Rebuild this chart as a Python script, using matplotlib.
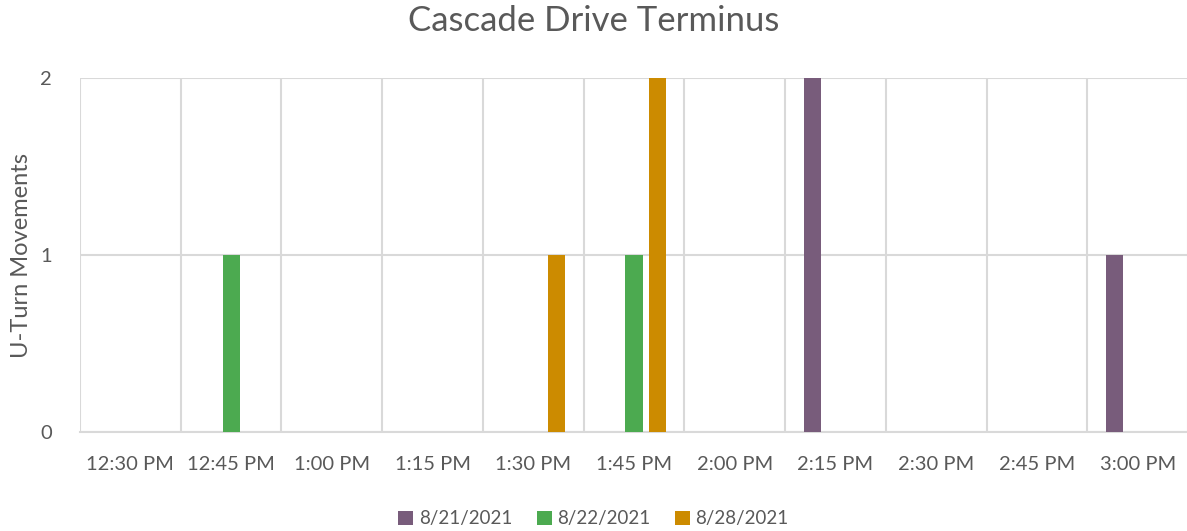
import matplotlib.pyplot as plt
import numpy as np

plt.rcParams['font.family'] = ['Lato', 'DejaVu Sans']

times = ['12:30 PM', '12:45 PM', '1:00 PM', '1:15 PM', '1:30 PM', '1:45 PM',
         '2:00 PM', '2:15 PM', '2:30 PM', '2:45 PM', '3:00 PM']
series_names = ['8/21/2021', '8/22/2021', '8/28/2021']
aug21 = [0, 0, 0, 0, 0, 0, 0, 2, 0, 0, 1]
aug22 = [0, 1, 0, 0, 0, 1, 0, 0, 0, 0, 0]
aug28 = [0, 0, 0, 0, 1, 2, 0, 0, 0, 0, 0]
colors = ['#785C7B', '#4CAA50', '#CC8B00']

fig = plt.figure(figsize=(11.87, 5.31), dpi=100)
ax = fig.add_axes([80 / 1187, 1 - 432 / 531, 1108 / 1187, (432 - 78) / 531])

x = np.arange(len(times))
width = 0.17
offsets = [-0.23, 0, 0.23]
for vals, name, col, off in zip([aug21, aug22, aug28], series_names, colors, offsets):
    ax.bar(x + off, vals, width, color=col, label=name, zorder=3)

ax.set_xlim(-0.5, len(times) - 0.5)
ax.set_ylim(0, 2)
ax.set_yticks([0, 1, 2])
ax.set_xticks(x)
ax.set_xticklabels(times)
# category boundary gridlines, Excel style
ax.set_xticks(np.arange(-0.5, len(times)), minor=True)
ax.grid(True, which='minor', axis='x', color='#D9D9D9', linewidth=1.5, zorder=0)
ax.grid(True, which='major', axis='y', color='#D9D9D9', linewidth=1.5, zorder=0)
ax.tick_params(axis='both', which='both', length=0, colors='#595959', labelsize=14.5)
ax.tick_params(axis='x', pad=17)
ax.tick_params(axis='y', pad=20)
for s in ['top', 'right', 'left']:
    ax.spines[s].set_visible(False)
ax.spines['bottom'].set_color('#D9D9D9')
ax.spines['bottom'].set_linewidth(1.5)

ax.set_ylabel('U-Turn Movements', fontsize=17, color='#595959', labelpad=6)
fig.suptitle('Cascade Drive Terminus', fontsize=25, color='#595959', y=0.99)

fig.legend(loc='lower center', bbox_to_anchor=(0.5, -0.025), ncol=3, frameon=False,
           fontsize=13.5, handlelength=0.8, handleheight=0.8, handletextpad=0.3,
           columnspacing=1.3, labelcolor='#595959')

fig.savefig('out.png', dpi=100)
